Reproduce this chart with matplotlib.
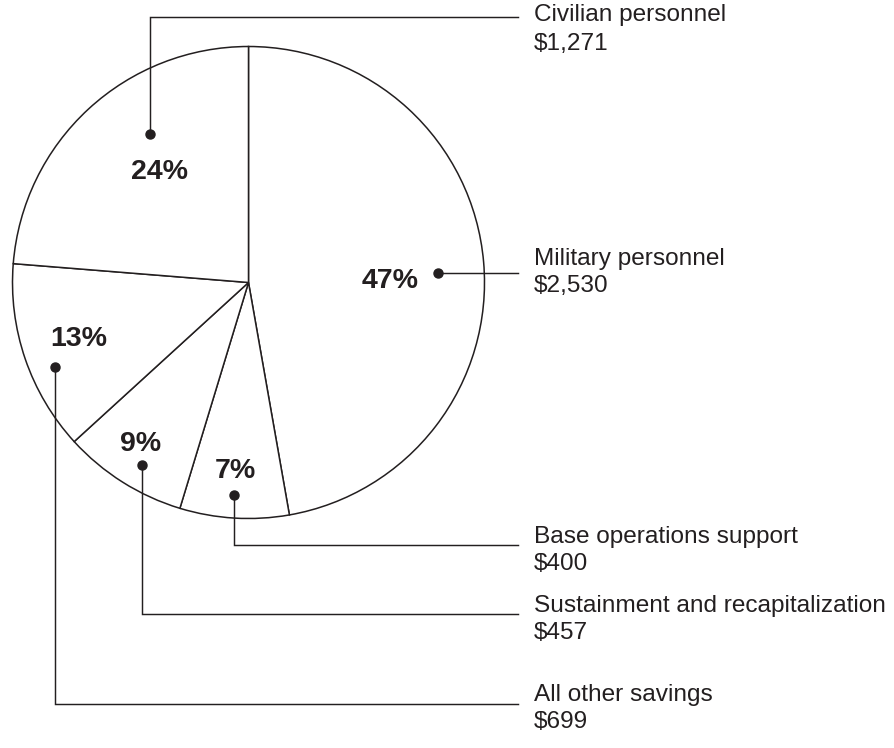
import matplotlib
matplotlib.use("Agg")
import matplotlib.pyplot as plt

# ---- data ----
categories = ["Military personnel", "Base operations support",
              "Sustainment and recapitalization", "All other savings",
              "Civilian personnel"]
values = [2530, 400, 457, 699, 1271]
value_labels = ["$2,530", "$400", "$457", "$699", "$1,271"]
pct_labels = ["47%", "7%", "9%", "13%", "24%"]

# ---- layout (pixel coordinates, y downward) ----
pie_center = (248.5, 282.5)
pie_radius = 236
dots = [(437.7, 273), (234, 495), (141.7, 465), (55.3, 367), (150.3, 134)]
line_y = [273, 545, 614, 704, 17]
pct_pos = [(390, 281), (235, 471), (141, 444), (78.5, 339), (159.5, 172)]
text_y1 = [259, 537, 606, 695, 15]
text_y2 = [286, 564, 633, 722, 44]
line_end_x = 518
text_x = 534

ink = "#231f20"
plt.rcParams["font.family"] = ["Liberation Sans", "DejaVu Sans"]

fig = plt.figure(figsize=(8.94, 7.48), dpi=100)
ax = fig.add_axes([0, 0, 1, 1])

ax.pie(values, center=pie_center, radius=pie_radius, startangle=-90,
       counterclock=True,
       wedgeprops=dict(facecolor="white", edgecolor=ink, linewidth=1.1))

ax.set_xlim(0, 894)
ax.set_ylim(748, 0)
ax.set_aspect("auto")
ax.axis("off")

for i in range(len(categories)):
    dx, dy = dots[i]
    ly = line_y[i]
    ax.plot([dx, dx, line_end_x], [dy, ly, ly], color=ink, lw=1.05,
            solid_joinstyle="miter", zorder=3)
    ax.plot([dx], [dy], "o", color=ink, markersize=6.5, zorder=4)
    px, py = pct_pos[i]
    ax.text(px, py, pct_labels[i], fontsize=20.5, fontweight="bold",
            color=ink, ha="center", va="center")
    ax.text(text_x, text_y1[i], categories[i], fontsize=17.6, color=ink,
            ha="left", va="center")
    ax.text(text_x, text_y2[i], value_labels[i], fontsize=17.6, color=ink,
            ha="left", va="center")

fig.savefig("out.png", dpi=100, facecolor="white")
